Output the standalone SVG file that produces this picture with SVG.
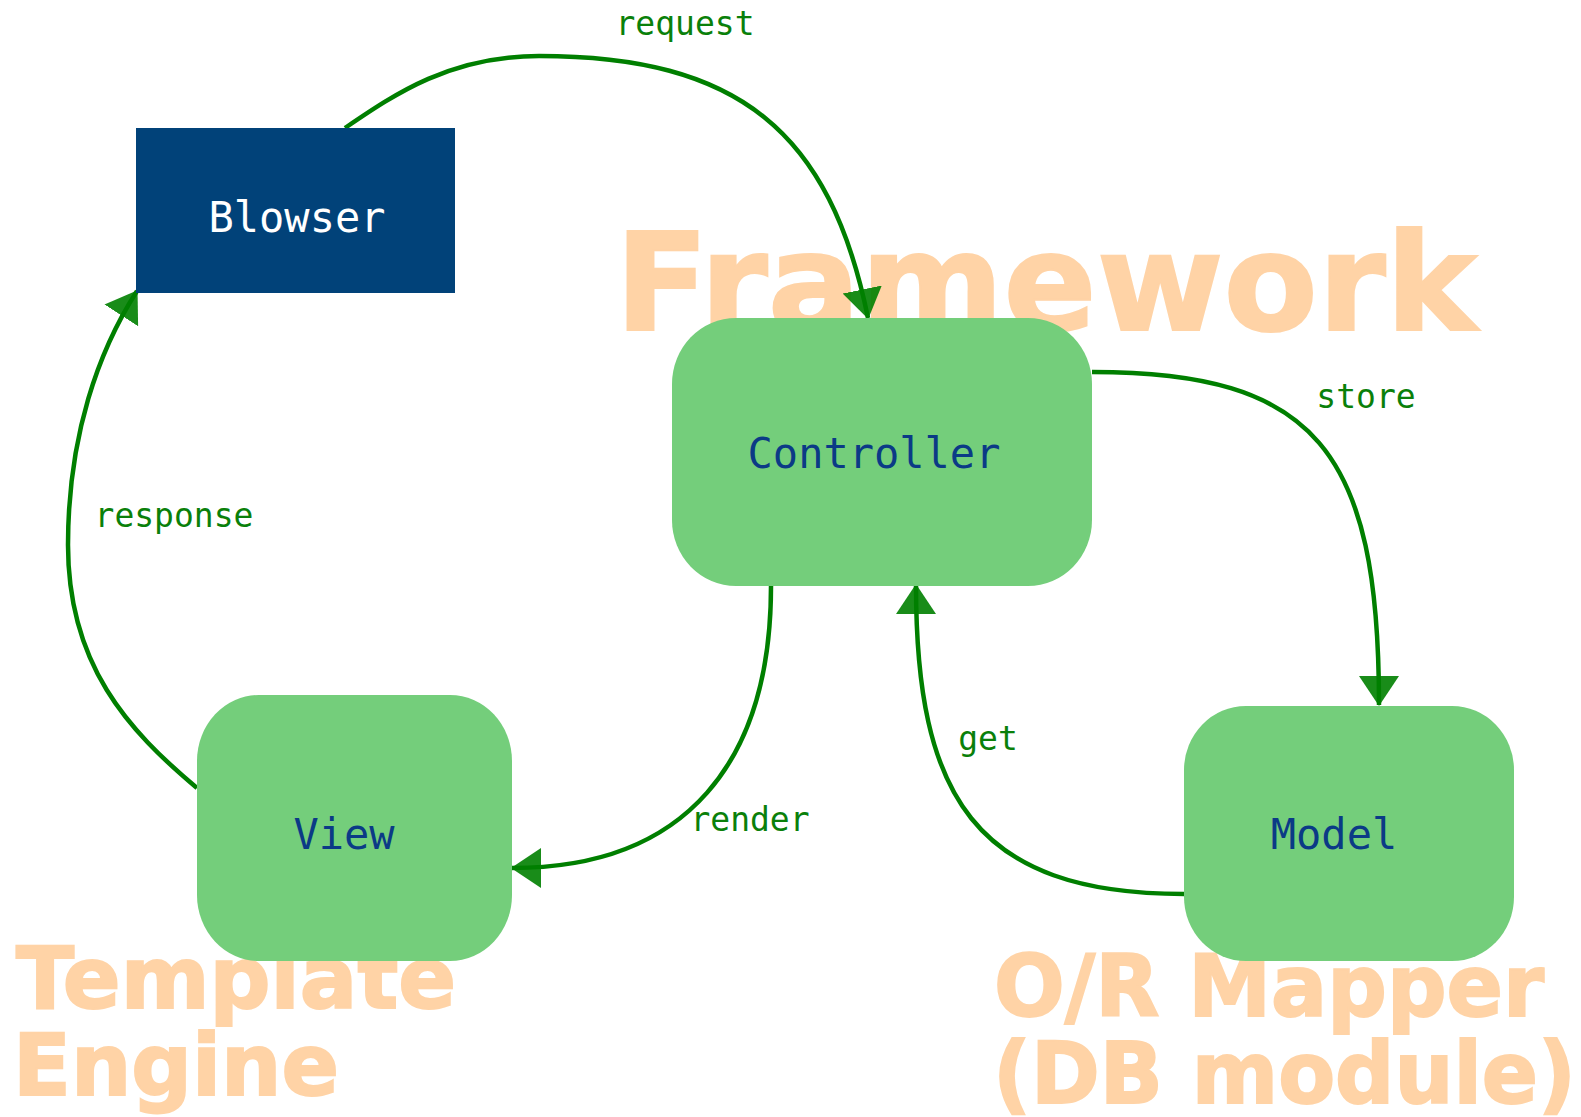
<svg xmlns="http://www.w3.org/2000/svg" width="1581" height="1117" viewBox="0 0 1581 1117">
  <style>
    .area { font-family: "DejaVu Sans", "Liberation Sans", sans-serif; font-weight: bold; fill: #ffd3a6; stroke: #ffd3a6; stroke-width: 2; }
    .node-rect { fill: #74ce7b; }
    .node-label { font-family: "DejaVu Sans Mono", monospace; font-size: 42px; fill: #0b3a86; text-anchor: middle; }
    .edge { fill: none; stroke: #007f00; stroke-width: 4.5; marker-end: url(#arrow); }
    .edge-label { font-family: "DejaVu Sans Mono", monospace; font-size: 33px; fill: #0a800a; text-anchor: middle; }
  </style>
  <defs>
    <marker id="arrow" markerUnits="userSpaceOnUse" markerWidth="34" markerHeight="44" viewBox="0 -22 34 44" refX="29" refY="0" orient="auto">
      <path d="M0,-20 L30,0 L0,20 Z" fill="#007f00" fill-opacity="0.9"/>
    </marker>
  </defs>

  <rect width="1581" height="1117" fill="#ffffff"/>

  <!-- layer names behind the diagram -->
  <g id="areas">
    <text class="area" x="615" y="330" font-size="136" textLength="862" lengthAdjust="spacingAndGlyphs">Framework</text>
    <text class="area" x="16" y="1008" font-size="86" textLength="440" lengthAdjust="spacingAndGlyphs">Template</text>
    <text class="area" x="13" y="1095" font-size="86" textLength="326" lengthAdjust="spacingAndGlyphs">Engine</text>
    <text class="area" x="994" y="1016" font-size="86" textLength="550" lengthAdjust="spacingAndGlyphs">O/R Mapper</text>
    <text class="area" x="993" y="1103" font-size="86" textLength="583" lengthAdjust="spacingAndGlyphs">(DB module)</text>
  </g>

  <!-- connectors -->
  <g id="connectors">
    <path id="e-request" class="edge" d="M345,128 C395,94 450,56 539,56 C739,56 830,132 868,318"/>
    <text class="edge-label" x="685" y="35">request</text>

    <path id="e-store" class="edge" d="M1092,372 C1315,372 1379,450 1379,705"/>
    <text class="edge-label" x="1366" y="408">store</text>

    <path id="e-get" class="edge" d="M1184,894 C974,894 916,795 916,585"/>
    <text class="edge-label" x="988" y="750">get</text>

    <path id="e-render" class="edge" d="M771,586 C771,761 687,868 512,868"/>
    <text class="edge-label" x="750" y="831">render</text>

    <path id="e-response" class="edge" d="M197,788 C128,730 68,665 68,545 C68,435 99,350 137,291"/>
    <text class="edge-label" x="174" y="527">response</text>
  </g>

  <!-- nodes -->
  <g id="node-blowser">
    <rect x="136" y="128" width="319" height="165" fill="#014279"/>
    <text class="node-label" x="297" y="232" style="fill:#ffffff">Blowser</text>
  </g>
  <g id="node-controller">
    <rect class="node-rect" x="672" y="318" width="420" height="268" rx="64" ry="66"/>
    <text class="node-label" x="874" y="468">Controller</text>
  </g>
  <g id="node-view">
    <rect class="node-rect" x="197" y="695" width="315" height="266" rx="62" ry="66"/>
    <text class="node-label" x="344" y="849">View</text>
  </g>
  <g id="node-model">
    <rect class="node-rect" x="1184" y="706" width="330" height="255" rx="62" ry="64"/>
    <text class="node-label" x="1334" y="849">Model</text>
  </g>
</svg>
